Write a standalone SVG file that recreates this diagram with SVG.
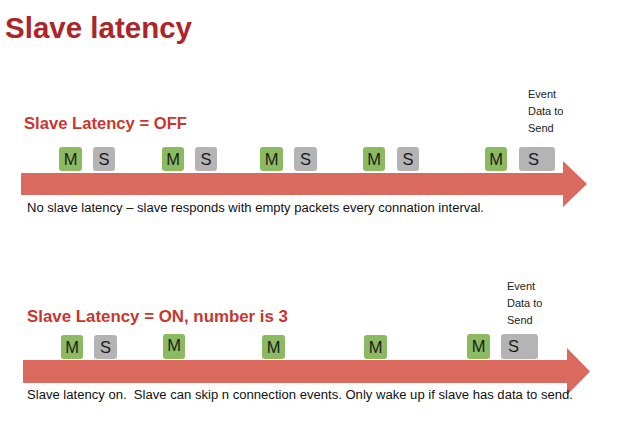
<svg xmlns="http://www.w3.org/2000/svg" width="624" height="426" viewBox="0 0 624 426">
<style>
.title{font-family:"Liberation Sans",Arial,sans-serif;font-weight:bold;font-size:29px;fill:#AC2629}
.head{font-family:"Liberation Sans",Arial,sans-serif;font-weight:bold;font-size:17px;fill:#C8372F}
.cap{font-family:"Liberation Sans",Arial,sans-serif;font-size:12.5px;fill:#111}
.ev{font-family:"Liberation Sans",Arial,sans-serif;font-size:11px;fill:#222}
.m{fill:#8CBA61}
.s{fill:#B4B4B4}
.lbl{font-family:"Liberation Sans",Arial,sans-serif;font-size:16.5px;fill:#1a1a1a;text-anchor:middle}
.lbls{font-family:"Liberation Sans",Arial,sans-serif;font-size:16.5px;fill:#1a1a1a}
.arrow{fill:#DA695E}
</style>
<rect width="624" height="426" fill="#fff"/>
<text class="title" x="5" y="38" textLength="187" lengthAdjust="spacingAndGlyphs">Slave latency</text>

<g id="timelines">
  <polygon class="arrow" points="21,173 563,173 563,161 587,184 563,207 563,195 21,195"/>
  <polygon class="arrow" points="23,360 567,360 567,348 590,371.5 567,395 567,383 23,383"/>
</g>

<g id="section-off">
  <text class="head" x="24" y="129" textLength="163" lengthAdjust="spacingAndGlyphs">Slave Latency = OFF</text>
  <g id="off-m1"><rect class="m" x="59" y="147" width="23" height="24" rx="3"/><text class="lbl" x="70.5" y="165">M</text></g>
  <g id="off-s1"><rect class="s" x="93" y="147" width="22" height="24" rx="3"/><text class="lbl" x="104" y="165">S</text></g>
  <g id="off-m2"><rect class="m" x="162" y="147" width="22" height="24" rx="3"/><text class="lbl" x="173" y="165">M</text></g>
  <g id="off-s2"><rect class="s" x="195" y="147" width="22" height="24" rx="3"/><text class="lbl" x="206" y="165">S</text></g>
  <g id="off-m3"><rect class="m" x="260" y="147" width="23" height="24" rx="3"/><text class="lbl" x="271.5" y="165">M</text></g>
  <g id="off-s3"><rect class="s" x="294" y="147" width="23" height="24" rx="3"/><text class="lbl" x="305.5" y="165">S</text></g>
  <g id="off-m4"><rect class="m" x="363" y="147" width="22" height="24" rx="3"/><text class="lbl" x="374" y="165">M</text></g>
  <g id="off-s4"><rect class="s" x="397" y="147" width="22" height="24" rx="3"/><text class="lbl" x="408" y="165">S</text></g>
  <g id="off-m5"><rect class="m" x="485" y="147" width="22" height="24" rx="3"/><text class="lbl" x="496" y="165">M</text></g>
  <g id="off-s5"><rect class="s" x="519" y="147" width="36" height="24" rx="3"/><text class="lbls" x="528" y="165">S</text></g>
  <text class="ev" x="528"><tspan x="528" y="98">Event</tspan><tspan x="528" y="115">Data to</tspan><tspan x="528" y="132">Send</tspan></text>
  <text class="cap" x="27" y="212" textLength="457" lengthAdjust="spacingAndGlyphs">No slave latency – slave responds with empty packets every connation interval.</text>
</g>

<g id="section-on">
  <text class="head" x="27" y="322" textLength="261" lengthAdjust="spacingAndGlyphs">Slave Latency = ON, number is 3</text>
  <g id="on-m1"><rect class="m" x="61" y="335" width="22" height="24" rx="3"/><text class="lbl" x="72" y="353">M</text></g>
  <g id="on-s1"><rect class="s" x="94" y="335" width="23" height="24" rx="3"/><text class="lbl" x="105.5" y="353">S</text></g>
  <g id="on-m2"><rect class="m" x="163" y="334" width="22" height="25" rx="3"/><text class="lbl" x="174" y="351">M</text></g>
  <g id="on-m3"><rect class="m" x="262" y="335" width="23" height="24" rx="3"/><text class="lbl" x="273.5" y="353">M</text></g>
  <g id="on-m4"><rect class="m" x="364" y="335" width="23" height="24" rx="3"/><text class="lbl" x="375.5" y="353">M</text></g>
  <g id="on-m5"><rect class="m" x="467" y="334" width="23" height="25" rx="3"/><text class="lbl" x="478.5" y="352">M</text></g>
  <g id="on-s5"><rect class="s" x="501" y="334" width="37" height="25" rx="3"/><text class="lbls" x="508" y="352">S</text></g>
  <text class="ev" x="507"><tspan x="507" y="290">Event</tspan><tspan x="507" y="307">Data to</tspan><tspan x="507" y="324">Send</tspan></text>
  <text class="cap" x="27" y="399" textLength="546" lengthAdjust="spacingAndGlyphs">Slave latency on.&#160; Slave can skip n connection events. Only wake up if slave has data to send.</text>
</g>
</svg>
